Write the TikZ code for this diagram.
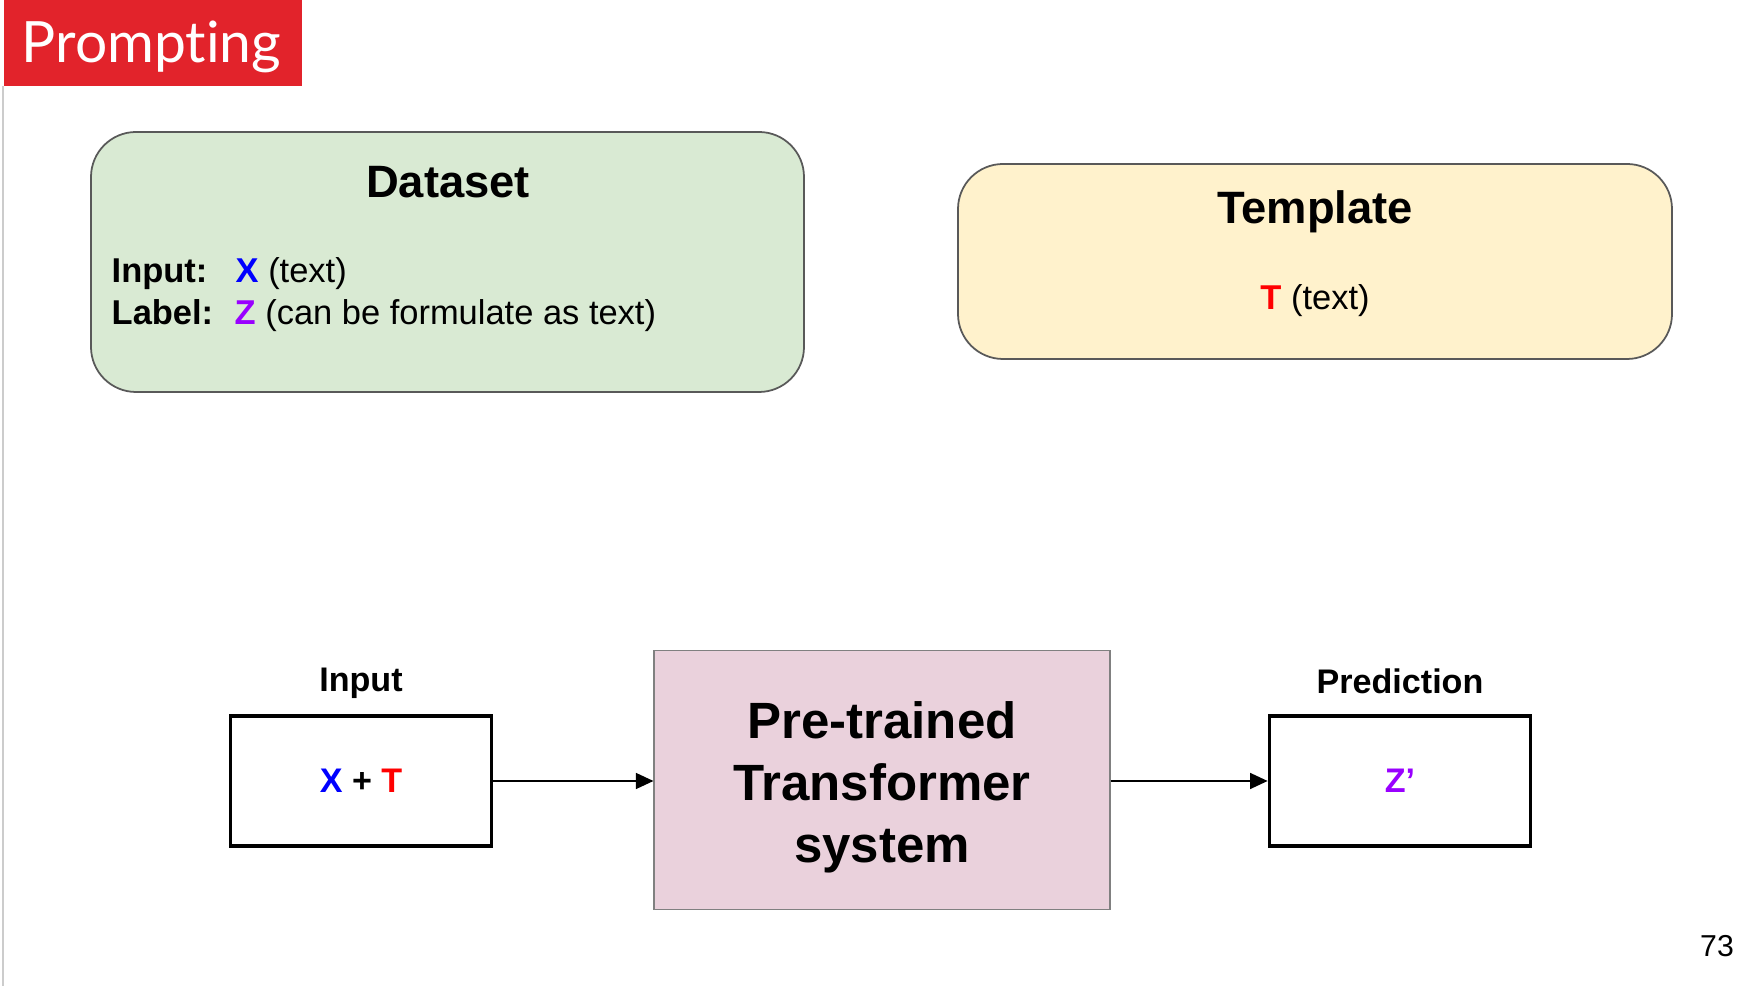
\documentclass[tikz,border=0pt]{standalone}
\usepackage{fontspec}
\setmainfont{Liberation Sans}
\newfontfamily\titlefont[Ligatures={NoCommon,NoRare,NoDiscretionary}]{Lato}
\usetikzlibrary{arrows.meta}
\definecolor{titlered}{HTML}{E2232B}
\definecolor{dsgreen}{HTML}{D9EAD3}
\definecolor{tplyellow}{HTML}{FFF2CC}
\definecolor{ptpink}{HTML}{EAD1DC}
\definecolor{xblue}{HTML}{0000FF}
\definecolor{tred}{HTML}{FF0000}
\definecolor{zpurple}{HTML}{9900FF}
\definecolor{edgegray}{HTML}{595959}
\tikzset{
  roundbox/.style={draw=edgegray, line width=0.5pt, rounded corners=0.45cm},
  plainbox/.style={draw=black, line width=1pt, fill=white},
  boxtitle/.style={font=\fontsize{12.9}{15}\selectfont\bfseries, inner sep=0pt},
  bodytext/.style={font=\fontsize{9.8}{11.8}\selectfont, inner sep=0pt, anchor=base west},
  smalllabel/.style={font=\fontsize{9.7}{11.6}\selectfont\bfseries, inner sep=0pt},
  flow/.style={draw=black, line width=0.6pt, -{Triangle[length=5pt,width=4.5pt]}},
}
\begin{document}
\begin{tikzpicture}[x=0.01cm, y=-0.01cm]
\useasboundingbox (0,0) rectangle (1757,986);
\fill[white] (0,0) rectangle (1757,986);
\draw[gray!40, line width=0.6pt] (3,86) -- (3,986);
% title
\fill[titlered] (4,0) rectangle (302,86);
\node[anchor=west, inner sep=0pt, text=white, font=\titlefont\fontsize{16.2}{18}\selectfont] (title) at (21,47) {Prompting};
% dataset
\draw[roundbox, fill=dsgreen] (91,132) rectangle (804,392);
\node[boxtitle] (dstitle) at (448,182) {Dataset};
\node[bodytext, font=\fontsize{9.8}{11.8}\selectfont\bfseries] (inlab) at (111,283) {Input:};
\node[bodytext] (inval) at (235,283) {\textbf{\textcolor{xblue}{X}} (text)};
\node[bodytext, font=\fontsize{9.8}{11.8}\selectfont\bfseries] (lablab) at (111,325) {Label:};
\node[bodytext] (labval) at (234,325) {\textbf{\textcolor{zpurple}{Z}} (can be formulate as text)};
% template
\draw[roundbox, fill=tplyellow] (958,164) rectangle (1672,359);
\node[boxtitle] (tptitle) at (1315,212) {Template};
\node[inner sep=0pt, font=\fontsize{9.8}{11.8}\selectfont] (tpval) at (1315,301) {\textbf{\textcolor{tred}{T}} (text)};
% bottom flow
\node[plainbox, minimum width=2.61cm, minimum height=1.30cm, inner sep=0pt,
      font=\fontsize{9.7}{11.6}\selectfont\bfseries] (inbox) at (361,781)
      {\textcolor{xblue}{X} + \textcolor{tred}{T}};
\node[smalllabel] (inlabel) at (361,683) {Input};
\node[draw=gray, line width=0.5pt, fill=ptpink, minimum width=4.55cm, minimum height=2.59cm,
      inner sep=0pt, align=center, font=\fontsize{14.5}{17.6}\selectfont\bfseries] (ptm) at (882,780) {};
\node[inner sep=0pt, align=center, font=\fontsize{14.5}{17.6}\selectfont\bfseries] (ptmtext) at (882,787)
      {Pre-trained\\Transformer\\system};
\node[plainbox, minimum width=2.61cm, minimum height=1.30cm, inner sep=0pt,
      font=\fontsize{9.7}{11.6}\selectfont\bfseries] (predbox) at (1400,781)
      {\textcolor{zpurple}{Z’}};
\node[smalllabel] (predlabel) at (1400,681) {Prediction};
\draw[flow] (inbox.east) -- (inbox.east -| ptm.west);
\draw[flow] (ptm.east |- predbox.west) -- (predbox.west);
% page number
\node[inner sep=0pt, font=\fontsize{8.6}{10}\selectfont] (pagenum) at (1717,946) {73};
\end{tikzpicture}
\end{document}
